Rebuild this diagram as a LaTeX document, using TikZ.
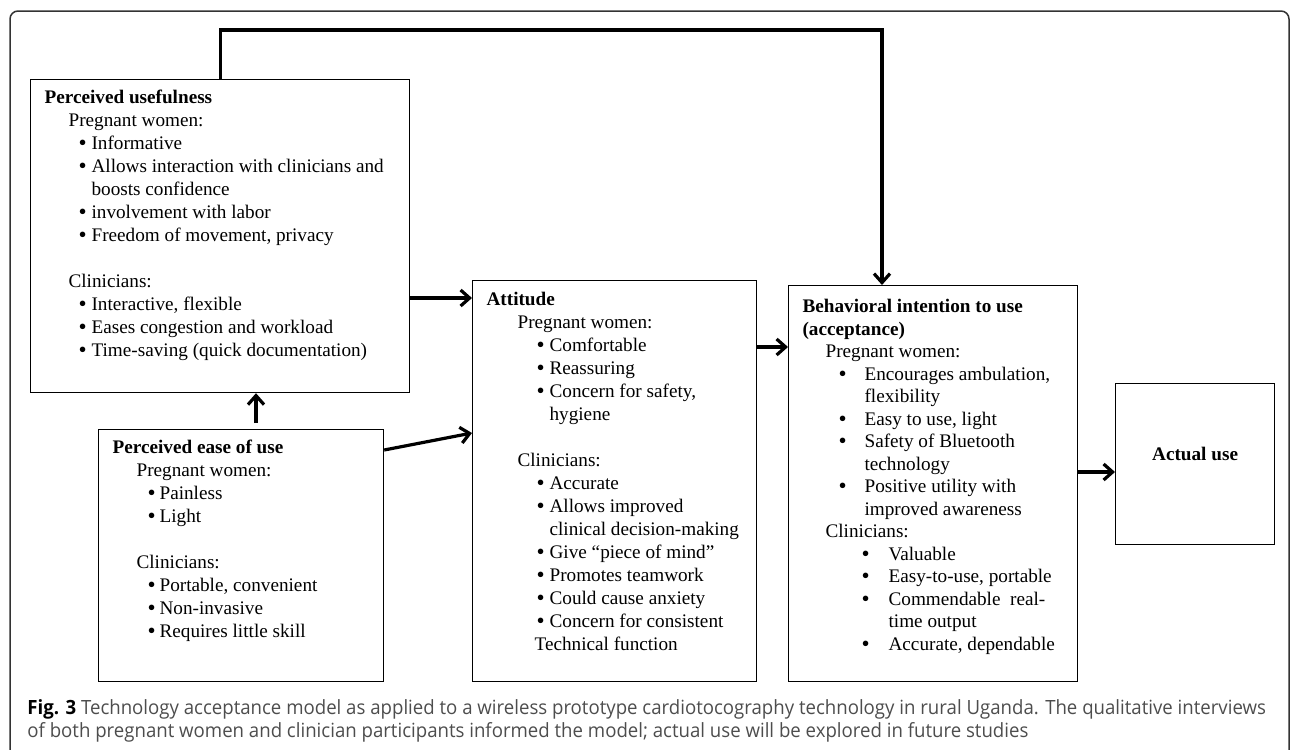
\documentclass[tikz,border=0pt]{standalone}
\usepackage{fontspec}
\usepackage{graphicx}
\setmainfont{Liberation Serif}
\newfontfamily\capfont[FakeStretch=0.95]{Open Sans}
\usetikzlibrary{arrows.meta}
\definecolor{capgray}{HTML}{4D4D4D}
\definecolor{framegray}{HTML}{333333}

% one line of a box: label at offset #1
\newcommand{\grp}[2]{\par{\leftskip=#1\noindent#2\par}}
% bullet at #1, text at #2
\newcommand{\bdot}{\smash{\raisebox{-0.6pt}{\scalebox{1.2}{\textbullet}}}}
\newcommand{\blt}[3]{\par{\leftskip=#2\noindent\llap{\makebox[\dimexpr#2-#1\relax][l]{\bdot}}#3\par}}
\newcommand{\gap}{\par\vspace{\baselineskip}}

\tikzset{
  box/.style={draw, line width=0.6pt, inner sep=0pt, anchor=north west,
    font=\fontsize{9.6pt}{11.5pt}\selectfont},
  flow/.style={line width=1.6pt, -{Straight Barb[length=4.5pt,width=8pt]}},
  capnode/.style={anchor=base west, inner sep=0pt, text=capgray,
    font=\capfont\fontsize{9.8pt}{11.5pt}\selectfont},
}

\begin{document}
\begin{tikzpicture}[x=0.5pt, y=-0.5pt]
	\useasboundingbox (0,0) rectangle (1292,750);
	\begin{scope}
	\clip (0,0) rectangle (1292,750);
	\draw[framegray, line width=0.75pt, rounded corners=4pt] (10,11) rectangle (1289,790);
	\end{scope}

	% boxes
	\node[box] (pu) at (30,79) {\parbox[t][156.5pt][t]{189.5pt}{\raggedright
		\grp{7pt}{\rule{0pt}{12pt}\textbf{Perceived usefulness}}
		\grp{19pt}{Pregnant women:}
		\blt{24pt}{30.5pt}{Informative}
		\blt{24pt}{30.5pt}{Allows interaction with clinicians and\\boosts confidence}
		\blt{24pt}{30.5pt}{involvement with labor}
		\blt{24pt}{30.5pt}{Freedom of movement, privacy}
		\gap
		\grp{19pt}{Clinicians:}
		\blt{24pt}{30.5pt}{Interactive, flexible}
		\blt{24pt}{30.5pt}{Eases congestion and workload}
		\blt{24pt}{30.5pt}{Time-saving (quick documentation)}}};
	\node[box] (pe) at (98,429) {\parbox[t][126pt][t]{142.5pt}{\raggedright
		\grp{7pt}{\rule{0pt}{12pt}\textbf{Perceived ease of use}}
		\grp{19pt}{Pregnant women:}
		\blt{24.5pt}{30.5pt}{Painless}
		\blt{24.5pt}{30.5pt}{Light}
		\gap
		\grp{19pt}{Clinicians:}
		\blt{24.5pt}{30.5pt}{Portable, convenient}
		\blt{24.5pt}{30.5pt}{Non-invasive}
		\blt{24.5pt}{30.5pt}{Requires little skill}}};
	\node[box] (att) at (472,280) {\parbox[t][200.5pt][t]{142pt}{\raggedright
		\grp{7pt}{\rule{0pt}{12.5pt}\textbf{Attitude}}
		\grp{22.5pt}{Pregnant women:}
		\blt{32pt}{38.5pt}{Comfortable}
		\blt{32pt}{38.5pt}{Reassuring}
		\blt{32pt}{38.5pt}{Concern for safety,\\hygiene}
		\gap
		\grp{22.5pt}{Clinicians:}
		\blt{32pt}{38.5pt}{Accurate}
		\blt{32pt}{38.5pt}{Allows improved\\clinical decision-making}
		\blt{32pt}{38.5pt}{Give “piece of mind”}
		\blt{32pt}{38.5pt}{Promotes teamwork}
		\blt{32pt}{38.5pt}{Could cause anxiety}
		\blt{32pt}{38.5pt}{Concern for consistent}
		\grp{31pt}{Technical function}}};
	\node[box, font=\fontsize{9.6pt}{11.25pt}\selectfont] (bi) at (788,285) {\parbox[t][198pt][t]{144.5pt}{\raggedright
		\grp{7pt}{\rule{0pt}{13.5pt}\textbf{Behavioral intention to use\\(acceptance)}}
		\grp{18.5pt}{Pregnant women:}
		\blt{25pt}{38pt}{Encourages ambulation,\\flexibility}
		\blt{25pt}{38pt}{Easy to use, light}
		\blt{25pt}{38pt}{Safety of Bluetooth\\technology}
		\blt{25pt}{38pt}{Positive utility with\\improved awareness}
		\grp{18.5pt}{Clinicians:}
		\blt{36.5pt}{50pt}{Valuable}
		\blt{36.5pt}{50pt}{Easy-to-use, portable}
		\blt{36.5pt}{50pt}{Commendable\ \ real-\\time output}
		\blt{36.5pt}{50pt}{Accurate, dependable}}};
	\node[box] (au) at (1115,383) {\parbox[t][80.5pt][t]{79.5pt}{\centering
		\rule{0pt}{38.5pt}\textbf{Actual use}}};

	% connectors
	\coordinate (fb) at (882,30);
	\coordinate (ya) at (0,298);
	\coordinate (xb) at (256,0);
	\coordinate (yc) at (0,450);
	\coordinate (yd) at (0,433);
	\coordinate (ye) at (0,347);
	\coordinate (yf) at (0,472);
	\draw[flow] (pu.north) |- (fb) -- (fb |- bi.north);
	\draw[flow] (pu.east |- ya) -- (att.west |- ya);
	\draw[flow, shorten <=3pt] (pe.north -| xb) -- (pu.south -| xb);
	\draw[flow] (pe.east |- yc) -- (att.west |- yd);
	\draw[flow] (att.east |- ye) -- (bi.west |- ye);
	\draw[flow] (bi.east |- yf) -- (au.west |- yf);

	% caption
	\node[capnode] (cap1) at (27,714) {\textcolor{black}{\bfseries Fig. 3} Technology acceptance model as applied to a wireless prototype cardiotocography technology in rural Uganda. The qualitative interviews};
	\node[capnode] (cap2) at (27,737) {of both pregnant women and clinician participants informed the model; actual use will be explored in future studies};
\end{tikzpicture}
\end{document}
